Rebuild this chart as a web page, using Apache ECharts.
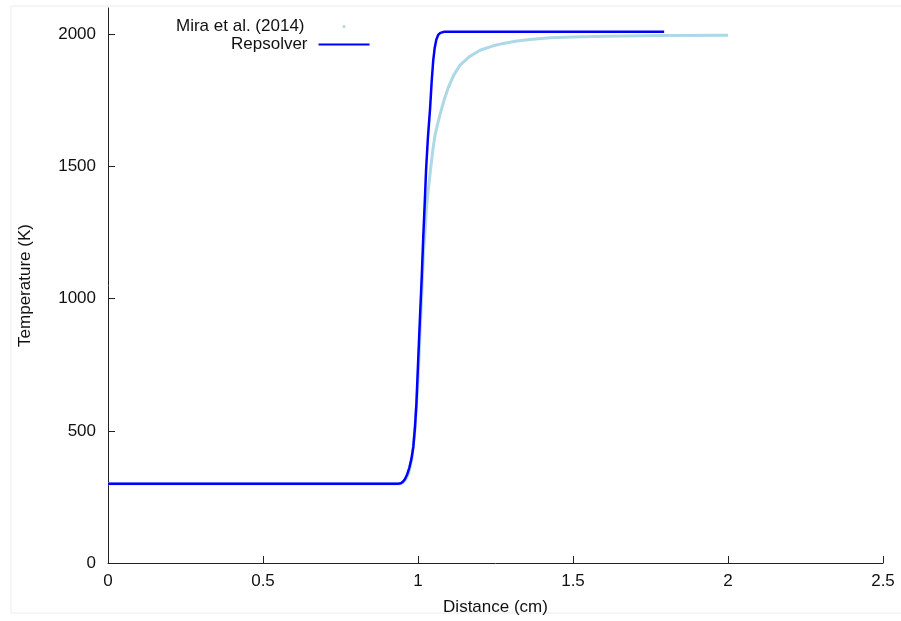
<!DOCTYPE html>
<html>
<head>
<meta charset="utf-8">
<script src="https://cdn.jsdelivr.net/npm/echarts@6/dist/echarts.min.js"></script>
<style>html,body{margin:0;padding:0;background:#fff;}#c{width:901px;height:621px;}</style>
</head>
<body>
<div id="c"></div>
<script>
// Repsolver (x in cm, T in K)
const repX = [0, 0.5, 0.9, 0.935, 0.945, 0.952, 0.958, 0.965, 0.972, 0.979, 0.985, 0.990, 0.995, 1.000, 1.006, 1.012, 1.017, 1.022, 1.026, 1.032, 1.039, 1.044, 1.049, 1.054, 1.059, 1.065, 1.072, 1.085, 1.3, 1.5, 1.794];
const repT = [300, 300, 300, 300, 302, 308, 318, 335, 360, 395, 440, 510, 605, 750, 919, 1080, 1234, 1370, 1486, 1610, 1720, 1820, 1900, 1950, 1980, 1998, 2006, 2010, 2010, 2010, 2010];
// Mira et al. (2014)
const miraX = [0, 0.5, 0.94, 0.95, 0.96, 0.97, 0.98, 0.99, 1.0, 1.007, 1.012, 1.015, 1.018, 1.023, 1.027, 1.033, 1.039, 1.047, 1.055, 1.063, 1.071, 1.085, 1.098, 1.115, 1.135, 1.165, 1.2, 1.24, 1.275, 1.32, 1.361, 1.426, 1.5, 1.608, 1.8, 2.0];
const miraT = [300, 300, 300, 304, 315, 340, 395, 500, 690, 880, 1010, 1100, 1180, 1260, 1340, 1410, 1474, 1555, 1619, 1660, 1697, 1755, 1800, 1845, 1883, 1915, 1940, 1956, 1966, 1975, 1981, 1987, 1990, 1993, 1996, 1997];
const yTicks = [0, 500, 1000, 1500, 2000];
const seriesNames = ['Mira et al. (2014)', 'Repsolver'];

const zip = (xs, ys) => xs.map((x, i) => [x, ys[i]]);
const font = 'Liberation Sans, Arial, sans-serif';
const fs = 17;
const chart = echarts.init(document.getElementById('c'), null, {renderer: 'canvas'});
chart.setOption({
  animation: false,
  backgroundColor: '#fff',
  graphic: [{type: 'rect', shape: {x: 11, y: 6, width: 900, height: 607}, style: {fill: 'none', stroke: '#ececec', lineWidth: 1}, silent: true, z: -10}],
  grid: {left: 108, right: 18, top: 8, bottom: 58},
  legend: [
    {data: [{name: seriesNames[0], icon: 'circle'}], orient: 'vertical', align: 'right', left: 171, top: 13,
     itemWidth: 3, itemHeight: 3, textStyle: {fontFamily: font, fontSize: fs, color: '#111', padding: [0, 33, 0, 0]}},
    {data: [{name: seriesNames[1], icon: 'rect'}], orient: 'vertical', align: 'right', left: 226, top: 31,
     itemWidth: 51, itemHeight: 2, textStyle: {fontFamily: font, fontSize: fs, color: '#111', padding: [0, 6, 0, 0]}}
  ],
  xAxis: {
    type: 'value', min: 0, max: 2.5, interval: 0.5,
    name: 'Distance (cm)', nameLocation: 'middle', nameGap: 36,
    nameTextStyle: {fontFamily: font, fontSize: fs, color: '#111'},
    axisLine: {lineStyle: {color: '#222', width: 1}},
    axisTick: {inside: true, length: 7, lineStyle: {color: '#222'}},
    axisLabel: {fontFamily: font, fontSize: fs, color: '#111', margin: 10},
    splitLine: {show: false}
  },
  yAxis: {
    type: 'value', min: 0, max: 2100,
    name: 'Temperature (K)', nameLocation: 'middle', nameGap: 74, nameRotate: 90,
    nameTextStyle: {fontFamily: font, fontSize: fs, color: '#111'},
    axisLine: {show: true, lineStyle: {color: '#222', width: 1}},
    axisTick: {show: true, inside: true, length: 7, lineStyle: {color: '#222'}, customValues: yTicks},
    axisLabel: {fontFamily: font, fontSize: fs, color: '#111', margin: 12, customValues: yTicks, formatter: v => String(v)},
    splitLine: {show: false}
  },
  series: [
    {name: seriesNames[0], type: 'line', data: zip(miraX, miraT), showSymbol: false, smooth: false,
     itemStyle: {color: '#add8e6'}, lineStyle: {color: '#add8e6', width: 3}, z: 1},
    {name: seriesNames[1], type: 'line', data: zip(repX, repT), showSymbol: false, smooth: false,
     itemStyle: {color: '#0000ff'}, lineStyle: {color: '#0000ff', width: 2.5}, z: 2}
  ]
});
</script>
</body>
</html>
